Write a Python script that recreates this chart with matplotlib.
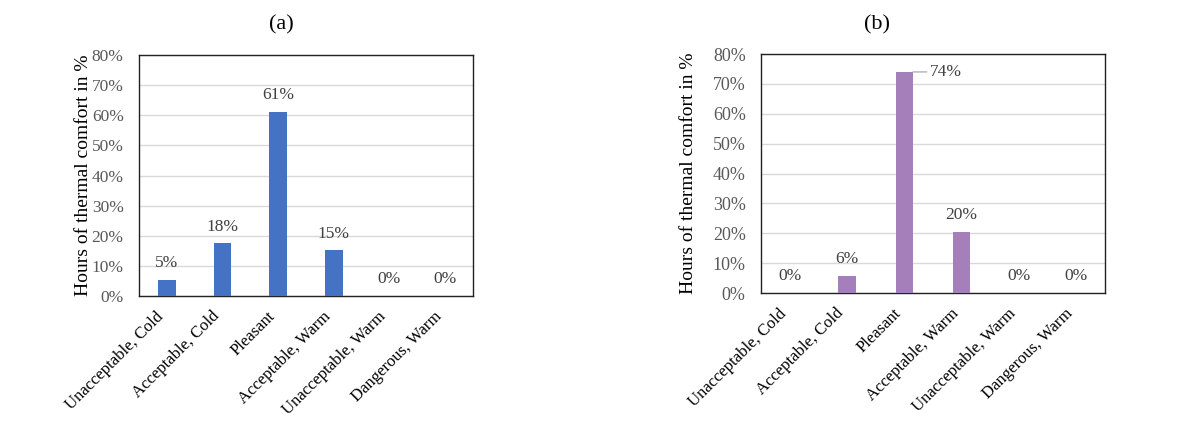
import numpy as np
import matplotlib
matplotlib.use("Agg")
import matplotlib.pyplot as plt

# Данные
categories = ["Unacceptable, Cold", "Acceptable, Cold", "Pleasant",
              "Acceptable, Warm", "Unacceptable, Warm", "Dangerous, Warm"]
values_a = [5.3, 17.5, 61.2, 15.2, 0, 0]
labels_a = ["5%", "18%", "61%", "15%", "0%", "0%"]
values_b = [0, 5.7, 74.0, 20.4, 0, 0]
labels_b = ["0%", "6%", "74%", "20%", "0%", "0%"]

plt.rcParams['font.family'] = ['Liberation Serif', 'DejaVu Serif']

fig = plt.figure(figsize=(11.83, 4.30), dpi=100)

def draw(ax, vals, labs, color, width, tick_fs, leader=None):
    x = np.arange(len(categories))
    ax.bar(x, vals, width=width, color=color, zorder=3)
    ax.set_xlim(-0.5, len(categories) - 0.5)
    ax.set_ylim(0, 80)
    ax.set_yticks(np.arange(0, 81, 10))
    ax.set_yticklabels([f"{t}%" for t in range(0, 81, 10)], color="#595959", fontsize=tick_fs)
    ax.set_xticks(x)
    ax.set_xticklabels(categories, rotation=45, ha="right", va="top", fontsize=12)
    ax.tick_params(axis="both", length=0)
    ax.tick_params(axis="y", pad=11)
    ax.tick_params(axis="x", pad=9)
    ax.grid(axis="y", color="#D9D9D9", linewidth=1, zorder=0)
    for s in ax.spines.values():
        s.set_color("#222222")
        s.set_linewidth(1.0)
    for i, (v, l) in enumerate(zip(vals, labs)):
        if leader == i:
            ax.annotate(l, xy=(i + width / 2, v), xytext=(12, 0), textcoords="offset points",
                        ha="left", va="center", color="#404040", fontsize=12.5,
                        arrowprops=dict(arrowstyle="-", color="#A0A0A0", lw=0.8,
                                        shrinkA=0, shrinkB=0))
        else:
            ax.annotate(l, xy=(i, v), xytext=(0, 12), textcoords="offset points",
                        ha="center", va="center", color="#404040", fontsize=12.5)

ax1 = fig.add_axes([0.1175, 0.3116, 0.2823, 0.5604])
draw(ax1, values_a, labels_a, "#4472C4", 0.32, 12.5)
ax1.set_ylabel("Hours of thermal comfort in %", fontsize=14)
ax1.yaxis.set_label_coords(-0.142, 0.5)

ax2 = fig.add_axes([0.6433, 0.3186, 0.2907, 0.5558])
draw(ax2, values_b, labels_b, "#A57FB9", 0.30, 13, leader=2)
ax2.set_ylabel("Hours of thermal comfort in %", fontsize=14)
ax2.yaxis.set_label_coords(-0.186, 0.5)

fig.text(281 / 1183, 1 - 25 / 430, "(a)", ha="center", va="center", fontsize=16)
fig.text(877 / 1183, 1 - 25 / 430, "(b)", ha="center", va="center", fontsize=16)

fig.savefig("out.png", dpi=100)
